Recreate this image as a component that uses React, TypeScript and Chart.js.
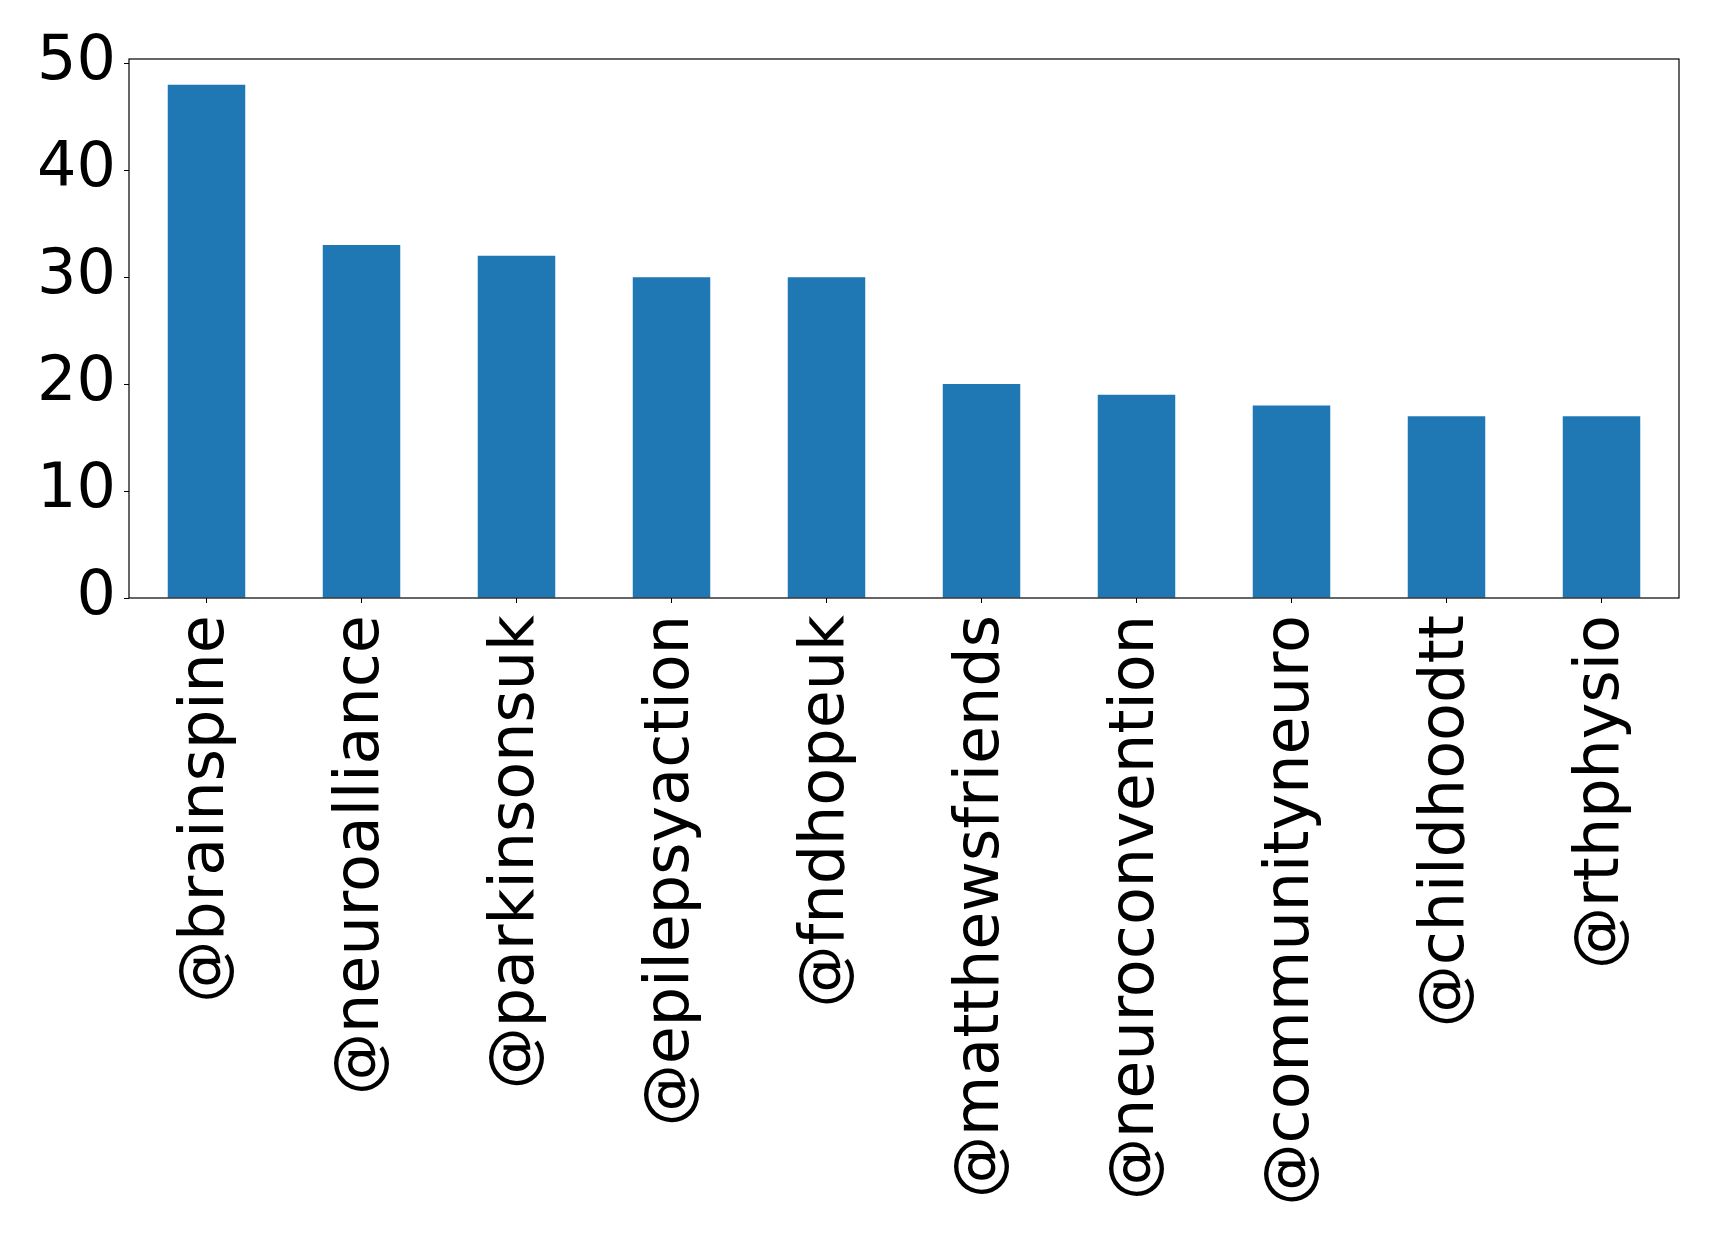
import React, { useEffect, useRef } from "react";
import { Chart, registerables } from "chart.js";

Chart.register(...registerables);

const categories = [
  "@brainspine",
  "@neuroalliance",
  "@parkinsonsuk",
  "@epilepsyaction",
  "@fndhopeuk",
  "@matthewsfriends",
  "@neuroconvention",
  "@communityneuro",
  "@childhoodtt",
  "@rthphysio",
];
const values = [48, 33, 32, 30, 30, 20, 19, 18, 17, 17];
const yTicks = [0, 10, 20, 30, 40, 50];
const yMax = 50.4;

const W = 1719;
const H = 1242;
const LEFT = 129;
const TOP = 59;
const RIGHT = 1679;
const BOTTOM = 598;
const FONT = "'DejaVu Sans', sans-serif";

const framePlugin = {
  id: "frame",
  afterDatasetsDraw(chart: any) {
    const { ctx, chartArea } = chart;
    ctx.save();
    ctx.strokeStyle = "#000";
    ctx.lineWidth = 1.2;
    ctx.strokeRect(
      chartArea.left,
      chartArea.top,
      chartArea.right - chartArea.left,
      chartArea.bottom - chartArea.top
    );
    ctx.restore();
  },
};

export default function App() {
  const ref = useRef<HTMLCanvasElement | null>(null);

  useEffect(() => {
    document.body.style.margin = "0";
    const canvas = ref.current!;
    const chart = new Chart(canvas, {
      type: "bar",
      data: {
        labels: categories,
        datasets: [
          {
            data: values,
            backgroundColor: "#1f77b4",
            borderWidth: 0,
            categoryPercentage: 1,
            barPercentage: 0.5,
          },
        ],
      },
      options: {
        animation: false,
        responsive: false,
        devicePixelRatio: 1,
        layout: { padding: { left: 0, top: TOP, right: W - RIGHT, bottom: 0 } },
        plugins: { legend: { display: false }, tooltip: { enabled: false } },
        scales: {
          x: {
            offset: true,
            border: { display: false },
            grid: {
              display: true,
              offset: false,
              drawOnChartArea: false,
              drawTicks: true,
              tickLength: 5,
              color: "#000",
              lineWidth: 1,
            },
            ticks: {
              color: "#000",
              font: { family: FONT, size: 62 },
              minRotation: 90,
              maxRotation: 90,
              autoSkip: false,
              padding: 12,
            },
            afterFit(scale: any) {
              scale.height = H - BOTTOM;
            },
          },
          y: {
            min: 0,
            max: yMax,
            border: { display: false },
            grid: {
              display: true,
              drawOnChartArea: false,
              drawTicks: true,
              tickLength: 5,
              color: "#000",
              lineWidth: 1,
            },
            ticks: {
              color: "#000",
              font: { family: FONT, size: 62 },
              padding: 8,
            },
            afterBuildTicks(scale: any) {
              scale.ticks = yTicks.map((v) => ({ value: v }));
            },
            afterFit(scale: any) {
              scale.width = LEFT;
            },
          },
        },
      },
      plugins: [framePlugin],
    });
    return () => chart.destroy();
  }, []);

  return (
    <div style={{ position: "absolute", left: 0, top: 0, width: W, height: H, background: "#fff" }}>
      <canvas ref={ref} width={W} height={H} style={{ width: W, height: H }} />
    </div>
  );
}
